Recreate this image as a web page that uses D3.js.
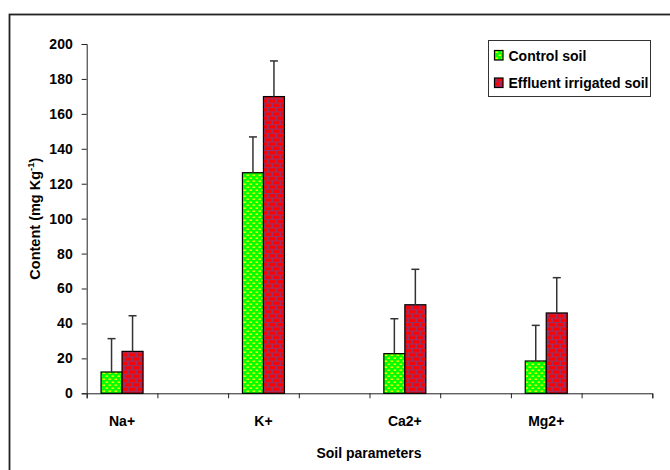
<!DOCTYPE html>
<html>
<head>
<meta charset="utf-8">
<script src="https://cdn.jsdelivr.net/npm/d3@7/dist/d3.min.js"></script>
<style>
  html, body { margin: 0; padding: 0; background: #fff; }
  svg { display: block; }
  text { font-family: "Liberation Sans", Arial, sans-serif; font-weight: bold; fill: #000; }
</style>
</head>
<body>
<div id="chart"></div>
<script>
// ---- data ----
const categories = ["Na+", "K+", "Ca2+", "Mg2+"];
const seriesNames = ["Control soil", "Effluent irrigated soil"];
const controlValues = [12.2, 126.3, 22.7, 18.5];
const controlErrors = [19.1, 20.5, 20.0, 20.4];
const effluentValues = [24.0, 169.9, 50.7, 46.0];
const effluentErrors = [20.4, 20.4, 20.3, 20.2];
const yTicks = [0, 20, 40, 60, 80, 100, 120, 140, 160, 180, 200];
const xTitle = "Soil parameters";
const yTitle = "Content (mg Kg";
const yTitleSup = "-1";

(function () {
// ---- layout ----
const W = 670, H = 470;
const mLeft = 86.7, mTop = 44, mRight = 652.3, mBottom = 393.3;
const slotCount = categories.length * 2;

const svg = d3.select("#chart").append("svg").attr("width", W).attr("height", H);
const defs = svg.append("defs");

// green dotted-brick pattern
const pg = defs.append("pattern").attr("id", "pGreen").attr("patternUnits", "userSpaceOnUse")
  .attr("width", 6).attr("height", 6);
pg.append("rect").attr("width", 6).attr("height", 6).attr("fill", "#00ff00");
[[0.5, 0.5], [3.5, 3.5], [-2.5, 3.5]].forEach(([x, y]) =>
  pg.append("rect").attr("x", x).attr("y", y).attr("width", 2.6).attr("height", 1.4).attr("fill", "#ffff00"));

// red brick pattern
const pr = defs.append("pattern").attr("id", "pRed").attr("patternUnits", "userSpaceOnUse")
  .attr("width", 8).attr("height", 8.6);
pr.append("rect").attr("width", 8).attr("height", 8.6).attr("fill", "#993366");
[[1, 0.6], [-3, 4.9], [5, 4.9]].forEach(([x, y]) =>
  pr.append("rect").attr("x", x).attr("y", y).attr("width", 6.6).attr("height", 3.2).attr("fill", "#ff0000"));

const fills = ["url(#pGreen)", "url(#pRed)"];

// outer frame (cropped on right & bottom)
svg.append("rect").attr("x", 9.5).attr("y", 14.5).attr("width", 720).attr("height", 520)
  .attr("fill", "none").attr("stroke", "#222").attr("stroke-width", 1.8);

// scales
const xSlot = d3.scaleBand().domain(d3.range(slotCount)).range([mLeft, mRight]).padding(0);
const xEdge = d3.scaleLinear().domain([0, slotCount]).range([mLeft, mRight]);
const xInner = d3.scaleBand().domain(seriesNames).range([0, xSlot.bandwidth()])
  .paddingInner(0).paddingOuter(0.683);
const y = d3.scaleLinear().domain([0, 200]).range([mBottom, mTop]);

// y axis
const yAxis = svg.append("g").attr("transform", `translate(${mLeft},0)`)
  .call(d3.axisLeft(y).tickValues(yTicks).tickSize(5).tickPadding(9));
yAxis.select(".domain").attr("stroke", "#222");
yAxis.selectAll(".tick line").attr("stroke", "#222");
yAxis.selectAll(".tick text").style("font-size", "14px").style("font-family", '"Liberation Sans", Arial, sans-serif')
  .style("font-weight", "bold").attr("fill", "#000");

// x axis with tick at each slot boundary
const xAxis = svg.append("g").attr("transform", `translate(0,${mBottom})`)
  .call(d3.axisBottom(xEdge).tickValues(d3.range(slotCount + 1)).tickSize(5).tickFormat(""));
xAxis.select(".domain").attr("stroke", "#222");
xAxis.selectAll(".tick line").attr("stroke", "#222");

// category labels
svg.append("g").selectAll("text").data(categories).join("text")
  .attr("x", (d, i) => xSlot(i * 2) + xSlot.bandwidth() / 2)
  .attr("y", 426)
  .attr("text-anchor", "middle")
  .style("font-size", "14px")
  .text(d => d);

// bars
const seriesData = [
  { name: seriesNames[0], values: controlValues, errors: controlErrors },
  { name: seriesNames[1], values: effluentValues, errors: effluentErrors }
];

seriesData.forEach((s, si) => {
  const g = svg.append("g");
  const bx = i => xSlot(i * 2) + xInner(s.name);
  g.selectAll("rect").data(s.values).join("rect")
    .attr("x", (d, i) => bx(i))
    .attr("y", d => y(d))
    .attr("width", xInner.bandwidth())
    .attr("height", d => y(0) - y(d))
    .attr("fill", fills[si])
    .attr("stroke", "#000")
    .attr("stroke-width", 1.2);
  const eg = svg.append("g").attr("stroke", "#333").attr("stroke-width", 1.5);
  s.values.forEach((v, i) => {
    const cx = bx(i) + xInner.bandwidth() / 2;
    eg.append("line").attr("x1", cx).attr("x2", cx).attr("y1", y(v)).attr("y2", y(v + s.errors[i]));
    eg.append("line").attr("x1", cx - 4).attr("x2", cx + 4).attr("y1", y(v + s.errors[i])).attr("y2", y(v + s.errors[i]));
  });
});

// axis titles
svg.append("text").attr("x", 369).attr("y", 457.5).attr("text-anchor", "middle")
  .style("font-size", "14px").text(xTitle);

const yt = svg.append("text").attr("transform", `translate(40,${(mTop + mBottom) / 2}) rotate(-90)`)
  .attr("text-anchor", "middle").style("font-size", "14.5px");
yt.append("tspan").text(yTitle);
yt.append("tspan").attr("dy", -6).style("font-size", "9.5px").text(yTitleSup);
yt.append("tspan").attr("dy", 6).text(")");

// legend
const lg = svg.append("g");
lg.append("rect").attr("x", 488.5).attr("y", 40.5).attr("width", 162).attr("height", 56)
  .attr("fill", "#fff").attr("stroke", "#333").attr("stroke-width", 1);
seriesNames.forEach((n, i) => {
  const yy = 50 + i * 27.5;
  lg.append("rect").attr("x", 494.5).attr("y", yy + 0.5).attr("width", 8.5).attr("height", 9.5)
    .attr("fill", fills[i]).attr("stroke", "#000").attr("stroke-width", 1.2);
  lg.append("text").attr("x", 508.5).attr("y", yy + 10.5).style("font-size", "14px").text(n);
});
})();
</script>
</body>
</html>
